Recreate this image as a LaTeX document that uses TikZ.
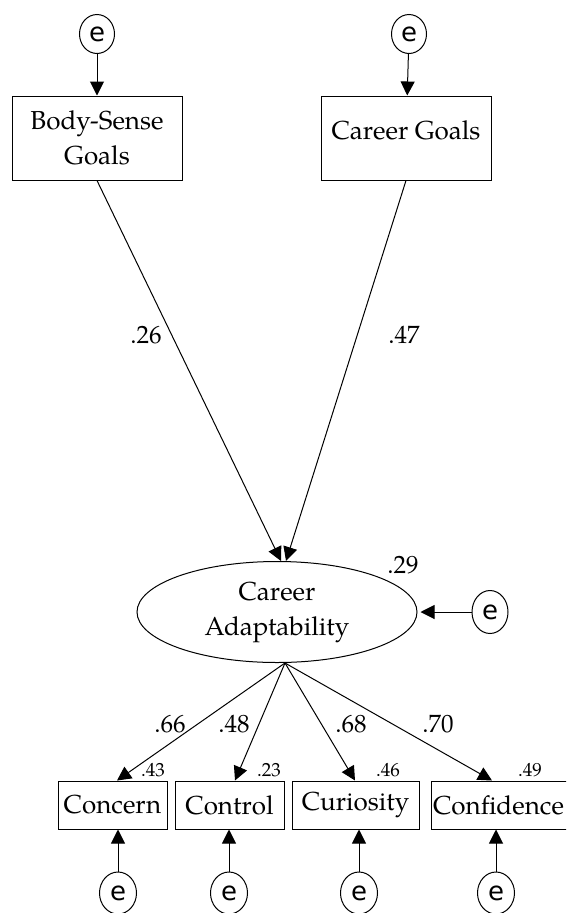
\documentclass[tikz,border=0pt]{standalone}
\usepackage{fontspec}
\setmainfont{texgyrepagella}[Extension=.otf,UprightFont=*-regular]
\newfontfamily\efont{DejaVu Sans}
\usetikzlibrary{arrows.meta,shapes.geometric}
\begin{document}
\begin{tikzpicture}[x=1pt,y=-1pt,
  every node/.style={inner sep=0pt},
  conn/.style={line width=1pt},
  arr/.style={conn,-{Triangle[length=14pt,width=14pt]}},
  err/.style={draw,line width=1pt,ellipse,minimum width=35pt,minimum height=39pt,font=\efont\fontsize{26}{28}\selectfont},
  obs/.style={draw,line width=1pt,rectangle,align=center,font=\fontsize{26}{35}\selectfont},
  lat/.style={draw,line width=1pt,ellipse,align=center,minimum width=280pt,minimum height=101pt,font=\fontsize{26}{35}\selectfont},
  coef/.style={font=\fontsize{25}{27}\selectfont},
  rsq/.style={font=\fontsize{19}{21}\selectfont}]
\useasboundingbox (0,0) rectangle (566,913);
\clip (0,0) rectangle (566,913);
% top
\node[err] (e1) at (97,34) {e};
\node[err] (e2) at (409,34) {e};
\node[obs,minimum width=170pt,minimum height=84pt] (bs) at (97,138) {Body-Sense\\Goals};
\node[obs,minimum width=170pt,minimum height=84pt] (cg) at (406,138) {\raisebox{16pt}{Career Goals}};
\draw[arr] (e1) -- (bs);
\draw[arr] (e2) -- (cg);
% latent
\node[lat] (ca) at (277,612) {Career\\Adaptability};
\node[err,minimum width=36pt,minimum height=43pt] (e3) at (490,612) {e};
\draw[arr] (e3.west) -- ([xshift=3pt]ca.east);
\draw[arr] (bs.south) -- ([xshift=4pt]ca.north);
\draw[arr] (cg.south) -- ([xshift=9pt]ca.north);
\node[coef] (l26) at (146,335) {.26};
\node[coef] (l47) at (404,335) {.47};
\node[coef] (l29) at (403,565) {.29};
% indicators
\node[obs,minimum width=109pt,minimum height=48pt] (con) at (112.5,805) {Concern};
\node[obs,minimum width=109pt,minimum height=48pt] (ctl) at (229.5,805) {Control};
\node[obs,minimum width=127pt,minimum height=48pt] (cur) at (355.5,805) {Curiosity};
\node[obs,minimum width=144pt,minimum height=48pt,text width=140pt,align=left] (cnf) at (503,805) {Confidence};
\coordinate (cab) at ([xshift=8pt]ca.south);
\draw[arr] (cab) -- ([xshift=4.5pt]con.north);
\draw[arr] (cab) -- ([xshift=5.5pt]ctl.north);
\draw[arr] (cab) -- ([xshift=-0.5pt]cur.north);
\draw[arr] (cab) -- ([xshift=-11pt]cnf.north);
\node[coef] (l66) at (170,724) {.66};
\node[coef] (l48) at (234,724) {.48};
\node[coef] (l68) at (351,724) {.68};
\node[coef] (l70) at (438,724) {.70};
\node[rsq] (l43) at (153,770) {.43};
\node[rsq] (l23) at (269,770) {.23};
\node[rsq] (l46) at (388,770) {.46};
\node[rsq] (l49) at (530,770) {.49};
\node[err,minimum width=37pt,minimum height=42pt] (e4) at (118,893) {e};
\node[err,minimum width=37pt,minimum height=42pt] (e5) at (229,893) {e};
\node[err,minimum width=37pt,minimum height=42pt] (e6) at (359,893) {e};
\node[err,minimum width=37pt,minimum height=42pt] (e7) at (496,893) {e};
\draw[arr] (e4) -- (e4 |- con.south);
\draw[arr] (e5) -- (e5 |- ctl.south);
\draw[arr] (e6) -- (e6 |- cur.south);
\draw[arr] (e7) -- (e7 |- cnf.south);
\end{tikzpicture}
\end{document}
